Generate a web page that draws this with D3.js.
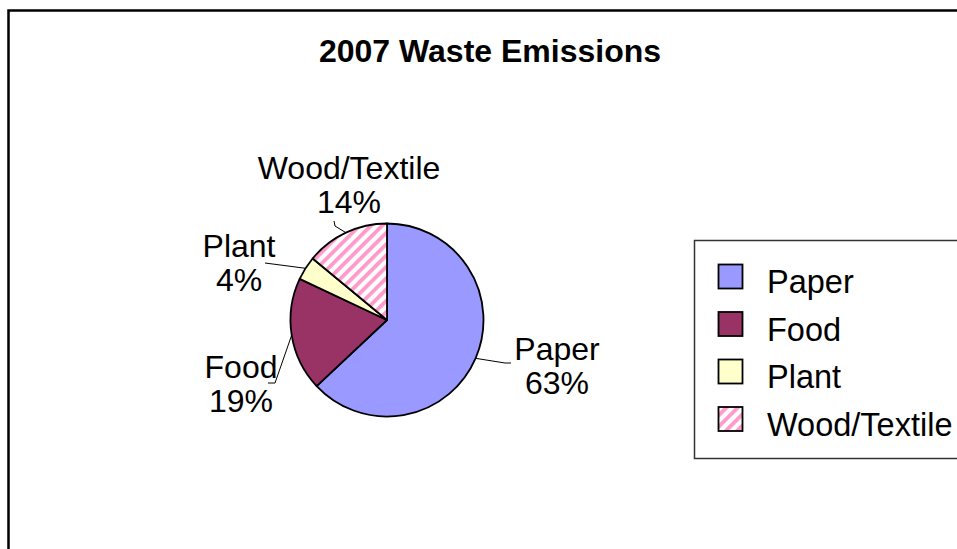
<!DOCTYPE html>
<html>
<head>
<meta charset="utf-8">
<script src="https://cdn.jsdelivr.net/npm/d3@7"></script>
<style>
  html, body { margin: 0; padding: 0; background: #fff; }
  svg { display: block; }
  text { font-family: "Liberation Sans", Arial, sans-serif; fill: #000; }
</style>
</head>
<body>
<script>
// ---- data ----
const title = "2007 Waste Emissions";
const categories = ["Paper", "Food", "Plant", "Wood/Textile"];
const values = [63, 19, 4, 14];
const percentLabels = ["63%", "19%", "4%", "14%"];

// ---- layout / style (not data) ----
const W = 957, H = 549;
const colors = ["#9999FF", "#993366", "#FFFFCC", "url(#woodStripe)"];
const cx = 387, cy = 320, R = 96.5;
// label centre offsets from the pie centre (dx, baseline of first line dy)
const labelOffsets = [[170, 40], [-146, 58], [-148, -63], [-38, -141]];
// leader-line bends/ends relative to the pie centre
const leaderEnds = [
  [[118, 43], [124, 43]],
  [[-112, 63], [-119, 63]],
  [[-122, -57]],
  [[-52, -94], [-53, -99]]
];

const svg = d3.select("body").append("svg").attr("width", W).attr("height", H);

const defs = svg.append("defs");
const pat = defs.append("pattern")
  .attr("id", "woodStripe")
  .attr("patternUnits", "userSpaceOnUse")
  .attr("width", 8).attr("height", 8)
  .attr("patternTransform", "rotate(45)");
pat.append("rect").attr("width", 8).attr("height", 8).attr("fill", "#fff");
pat.append("rect").attr("width", 3.8).attr("height", 8).attr("fill", "#FF99CC");

// outer chart border (extends past the right and bottom edges)
svg.append("rect")
  .attr("x", 8.5).attr("y", 10.5).attr("width", 980).attr("height", 560)
  .attr("fill", "none").attr("stroke", "#000").attr("stroke-width", 2.5);

// title
svg.append("text")
  .attr("x", 490).attr("y", 62)
  .attr("text-anchor", "middle")
  .style("font-size", "32px").style("font-weight", "bold")
  .text(title);

// pie
const pie = d3.pie().sort(null).value(d => d).startAngle(0).endAngle(2 * Math.PI);
const arcs = pie(values);
const arc = d3.arc().innerRadius(0).outerRadius(R);

const g = svg.append("g").attr("transform", `translate(${cx},${cy})`);
g.selectAll("path.slice").data(arcs).enter().append("path")
  .attr("class", "slice")
  .attr("d", arc)
  .attr("fill", (d, i) => colors[i])
  .attr("stroke", "#000").attr("stroke-width", 1.8).attr("stroke-linejoin", "round");

// leader lines
const line = d3.line();
arcs.forEach((d, i) => {
  const a = (d.startAngle + d.endAngle) / 2;
  const start = [R * Math.sin(a), -R * Math.cos(a)];
  g.append("path")
    .attr("d", line([start, ...leaderEnds[i]]))
    .attr("fill", "none").attr("stroke", "#000").attr("stroke-width", 1);
});

// data labels
arcs.forEach((d, i) => {
  const [dx, dy] = labelOffsets[i];
  const t = g.append("text")
    .attr("text-anchor", "middle")
    .style("font-size", "32px");
  t.append("tspan").attr("x", dx).attr("y", dy).text(categories[i]);
  t.append("tspan").attr("x", dx).attr("y", dy + 34).text(percentLabels[i]);
});

// legend
const lg = svg.append("g");
lg.append("rect")
  .attr("x", 694.5).attr("y", 240.5).attr("width", 300).attr("height", 218)
  .attr("fill", "#fff").attr("stroke", "#333").attr("stroke-width", 1.5);
const legendY = d3.scalePoint().domain(categories).range([0, 142.5]);
categories.forEach((c, i) => {
  const y = 264 + legendY(c);
  lg.append("rect")
    .attr("x", 718.5).attr("y", y + 0.5).attr("width", 24).attr("height", 24)
    .attr("fill", colors[i]).attr("stroke", "#000").attr("stroke-width", 1.8);
  lg.append("text")
    .attr("x", 767).attr("y", y + 29)
    .style("font-size", "32.5px")
    .text(c);
});
</script>
</body>
</html>
